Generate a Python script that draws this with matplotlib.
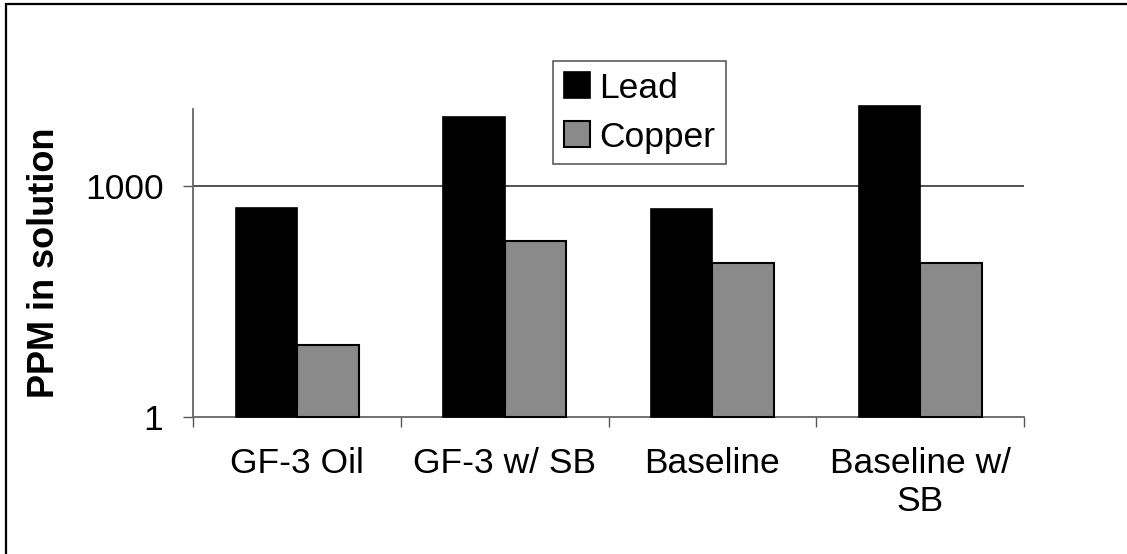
import numpy as np
import matplotlib.pyplot as plt
from matplotlib.lines import Line2D

plt.rcParams['font.family'] = ['Liberation Sans', 'DejaVu Sans']

# datos (escala log)
categorias = ['GF-3 Oil', 'GF-3 w/ SB', 'Baseline', 'Baseline w/\nSB']
lead = [515, 8000, 510, 11100]
copper = [8.5, 195, 100, 100]

W, H = 1127, 554
fig = plt.figure(figsize=(W / 100, H / 100), dpi=100)

# area del grafico en pixeles
x0, x1 = 193.3, 1024
y_top, y_bot = 109.3, 416.7
ax = fig.add_axes([x0 / W, 1 - y_bot / H, (x1 - x0) / W, (y_bot - y_top) / H])

x = np.arange(len(categorias))
ancho = 0.296
ax.bar(x - ancho / 2, np.array(lead) - 1, ancho, bottom=1, color='black', edgecolor='black',
       linewidth=1.2, label='Lead', clip_on=False, zorder=3)
ax.bar(x + ancho / 2, np.array(copper) - 1, ancho, bottom=1, color='#8a8a8a', edgecolor='black',
       linewidth=1.5, label='Copper', clip_on=False, zorder=3)

ax.set_yscale('log')
ax.set_ylim(1, 10000)
ax.set_xlim(-0.5, len(categorias) - 0.5)
ax.set_yticks([1, 1000])
ax.set_yticklabels(['1', '1000'])
ax.yaxis.set_minor_locator(plt.NullLocator())
ax.axhline(1000, color='#333333', linewidth=1.2, zorder=1)

ax.set_xticks(x)
ax.set_xticklabels(categorias)
ax.set_xticks(np.arange(len(categorias) + 1) - 0.5, minor=True)
ax.tick_params(axis='x', which='major', length=0, pad=22, labelsize=25.5)
ax.tick_params(axis='x', which='minor', length=7.5, width=1, color='#555555', direction='out')
ax.tick_params(axis='y', which='major', length=7.5, width=1, color='#555555', pad=14, labelsize=25.5)

for lado in ['top', 'right']:
    ax.spines[lado].set_visible(False)
for lado in ['left', 'bottom']:
    ax.spines[lado].set_color('#666666')
    ax.spines[lado].set_linewidth(1.3)

ax.set_ylabel('PPM in solution', fontsize=26, fontweight='bold')
ax.yaxis.set_label_coords((62 - x0) / (x1 - x0), 0.5)

leg = ax.legend(loc='upper left', bbox_to_anchor=((553 - x0) / (x1 - x0), 1 + (y_top - 61) / (y_bot - y_top)),
                fontsize=25.5, frameon=True, fancybox=False, borderpad=0.3,
                handlelength=0.75, handleheight=0.75, handletextpad=0.25,
                labelspacing=0.45, borderaxespad=0)
leg.get_frame().set_edgecolor('#333333')
leg.get_frame().set_linewidth(1.2)

# marco exterior (solo se ven los bordes izquierdo y superior)
fig.add_artist(Line2D([6 / W, 6 / W, 1.0], [0.0, 1 - 4 / H, 1 - 4 / H],
                      transform=fig.transFigure, color='black', linewidth=1.6,
                      solid_joinstyle='miter'))

fig.savefig('out.png', dpi=100)
